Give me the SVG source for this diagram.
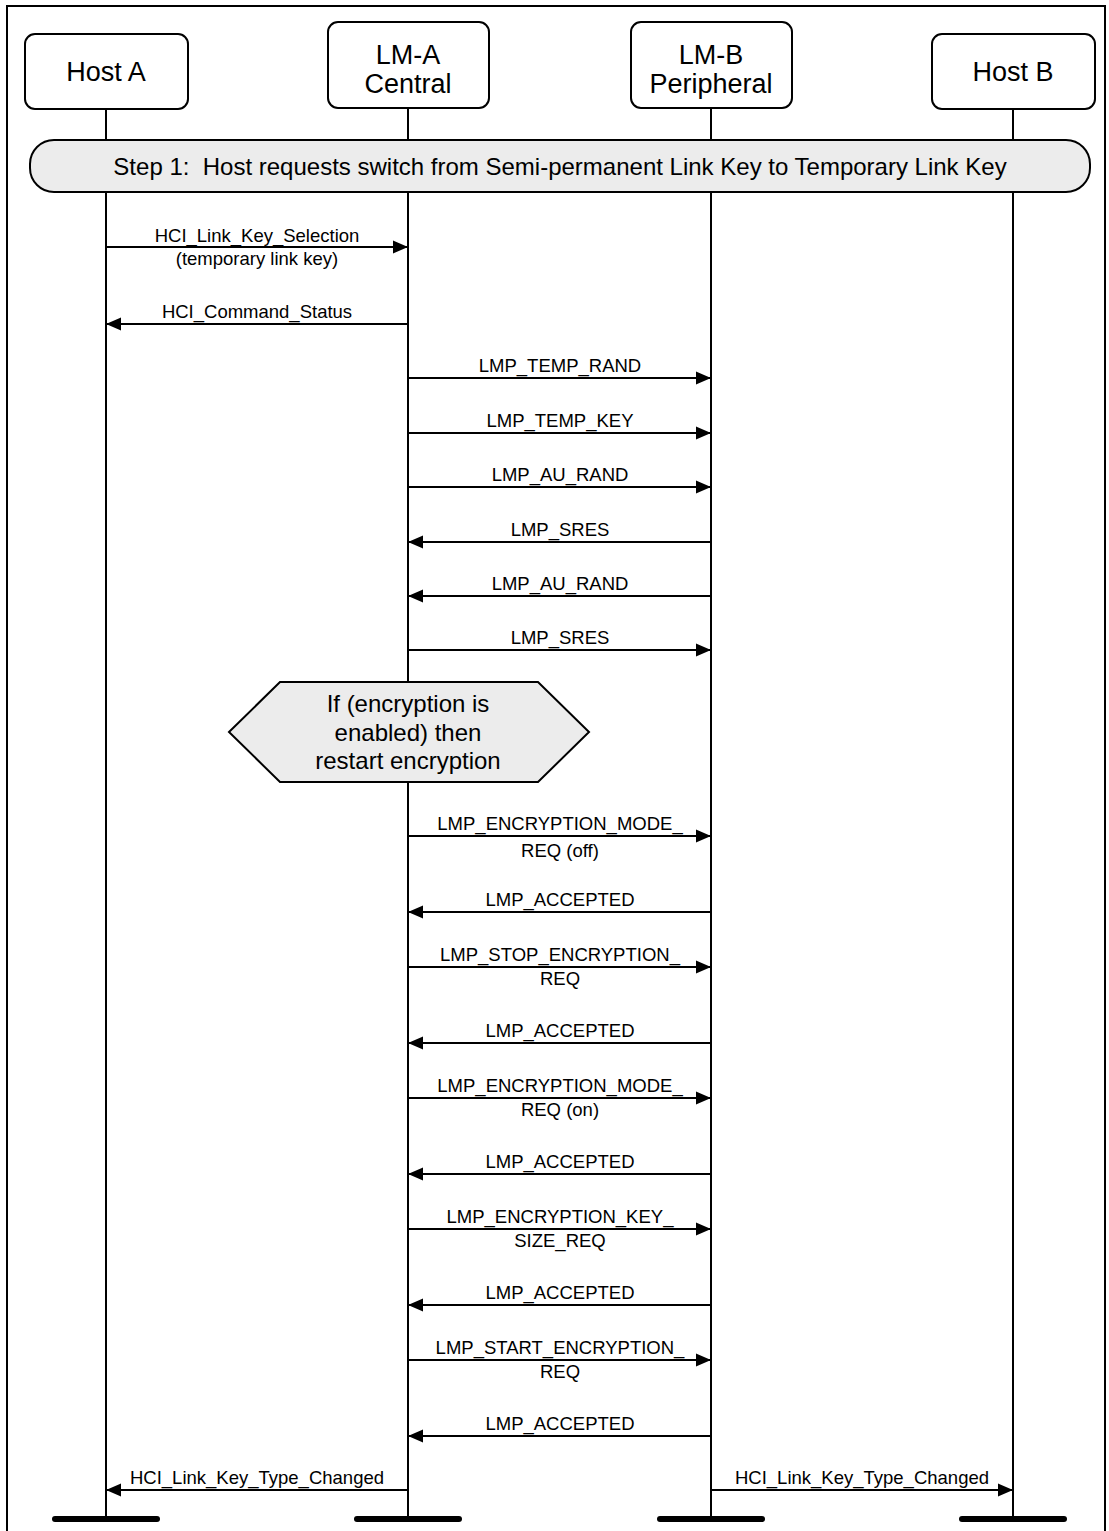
<svg xmlns="http://www.w3.org/2000/svg" width="1109" height="1531" viewBox="0 0 1109 1531">
<style>
text{font-family:"Liberation Sans",Arial,sans-serif;fill:#000;text-anchor:middle}
.node{fill:#fff;stroke:#000;stroke-width:2}
.nt{font-size:27px}
.life{stroke:#000;stroke-width:2;fill:none}
.end{stroke:#000;stroke-width:6;stroke-linecap:round}
.msg{stroke:#000;stroke-width:2;fill:none;marker-end:url(#ah)}
.lbl{font-size:18.5px}
.band{fill:#ececec;stroke:#000;stroke-width:2}
.ct{font-size:24px}
</style>
<defs>
<marker id="ah" markerUnits="userSpaceOnUse" markerWidth="16" markerHeight="14" refX="15" refY="7" orient="auto">
<path d="M0,0.5 L15,7 L0,13.5 z" fill="#000"/>
</marker>
</defs>
<rect x="7" y="6" width="1098" height="1535" fill="#fff" stroke="#000" stroke-width="2"/>
<g id="lifelines">
<line class="life" x1="106" y1="109" x2="106" y2="1519"/>
<line class="life" x1="408" y1="108" x2="408" y2="1519"/>
<line class="life" x1="711" y1="108" x2="711" y2="1519"/>
<line class="life" x1="1013" y1="109" x2="1013" y2="1519"/>
<line class="end" x1="55" y1="1519" x2="157" y2="1519"/>
<line class="end" x1="357" y1="1519" x2="459" y2="1519"/>
<line class="end" x1="660" y1="1519" x2="762" y2="1519"/>
<line class="end" x1="962" y1="1519" x2="1064" y2="1519"/>
</g>
<g id="hostA"><rect class="node" x="25" y="34" width="163" height="75" rx="10"/><text class="nt" x="106" y="81">Host A</text></g>
<g id="lmA"><rect class="node" x="328" y="22" width="161" height="86" rx="10"/><text class="nt" x="408" y="64">LM-A</text><text class="nt" x="408" y="93">Central</text></g>
<g id="lmB"><rect class="node" x="631" y="22" width="161" height="86" rx="10"/><text class="nt" x="711" y="64">LM-B</text><text class="nt" x="711" y="93">Peripheral</text></g>
<g id="hostB"><rect class="node" x="932" y="34" width="163" height="75" rx="10"/><text class="nt" x="1013" y="81">Host B</text></g>
<g id="step1"><rect class="band" x="30" y="140" width="1060" height="52" rx="24"/><text x="560" y="175" style="font-size:24px;white-space:pre">Step 1:  Host requests switch from Semi-permanent Link Key to Temporary Link Key</text></g>
<g id="cond"><polygon class="band" points="229,732 280,682 538,682 589,732 538,782 280,782"/><text class="ct" x="408" y="712">If (encryption is</text><text class="ct" x="408" y="741">enabled) then</text><text class="ct" x="408" y="769">restart encryption</text></g>
<g id="connectors">
<line class="msg" x1="106" y1="247" x2="408" y2="247"/>
<line class="msg" x1="408" y1="324" x2="106" y2="324"/>
<line class="msg" x1="408" y1="378" x2="711" y2="378"/>
<line class="msg" x1="408" y1="433" x2="711" y2="433"/>
<line class="msg" x1="408" y1="487" x2="711" y2="487"/>
<line class="msg" x1="711" y1="542" x2="408" y2="542"/>
<line class="msg" x1="711" y1="596" x2="408" y2="596"/>
<line class="msg" x1="408" y1="650" x2="711" y2="650"/>
<line class="msg" x1="408" y1="836" x2="711" y2="836"/>
<line class="msg" x1="711" y1="912" x2="408" y2="912"/>
<line class="msg" x1="408" y1="967" x2="711" y2="967"/>
<line class="msg" x1="711" y1="1043" x2="408" y2="1043"/>
<line class="msg" x1="408" y1="1098" x2="711" y2="1098"/>
<line class="msg" x1="711" y1="1174" x2="408" y2="1174"/>
<line class="msg" x1="408" y1="1229" x2="711" y2="1229"/>
<line class="msg" x1="711" y1="1305" x2="408" y2="1305"/>
<line class="msg" x1="408" y1="1360" x2="711" y2="1360"/>
<line class="msg" x1="711" y1="1436" x2="408" y2="1436"/>
<line class="msg" x1="408" y1="1490" x2="106" y2="1490"/>
<line class="msg" x1="711" y1="1490" x2="1013" y2="1490"/>
</g>
<g id="labels">
<text class="lbl" x="257" y="242">HCI_Link_Key_Selection</text>
<text class="lbl" x="257" y="265">(temporary link key)</text>
<text class="lbl" x="257" y="318">HCI_Command_Status</text>
<text class="lbl" x="560" y="372">LMP_TEMP_RAND</text>
<text class="lbl" x="560" y="427">LMP_TEMP_KEY</text>
<text class="lbl" x="560" y="481">LMP_AU_RAND</text>
<text class="lbl" x="560" y="536">LMP_SRES</text>
<text class="lbl" x="560" y="590">LMP_AU_RAND</text>
<text class="lbl" x="560" y="644">LMP_SRES</text>
<text class="lbl" x="560" y="830">LMP_ENCRYPTION_MODE_</text>
<text class="lbl" x="560" y="857">REQ (off)</text>
<text class="lbl" x="560" y="906">LMP_ACCEPTED</text>
<text class="lbl" x="560" y="961">LMP_STOP_ENCRYPTION_</text>
<text class="lbl" x="560" y="985">REQ</text>
<text class="lbl" x="560" y="1037">LMP_ACCEPTED</text>
<text class="lbl" x="560" y="1092">LMP_ENCRYPTION_MODE_</text>
<text class="lbl" x="560" y="1116">REQ (on)</text>
<text class="lbl" x="560" y="1168">LMP_ACCEPTED</text>
<text class="lbl" x="560" y="1223">LMP_ENCRYPTION_KEY_</text>
<text class="lbl" x="560" y="1247">SIZE_REQ</text>
<text class="lbl" x="560" y="1299">LMP_ACCEPTED</text>
<text class="lbl" x="560" y="1354">LMP_START_ENCRYPTION_</text>
<text class="lbl" x="560" y="1378">REQ</text>
<text class="lbl" x="560" y="1430">LMP_ACCEPTED</text>
<text class="lbl" x="257" y="1484">HCI_Link_Key_Type_Changed</text>
<text class="lbl" x="862" y="1484">HCI_Link_Key_Type_Changed</text>
</g>
</svg>
